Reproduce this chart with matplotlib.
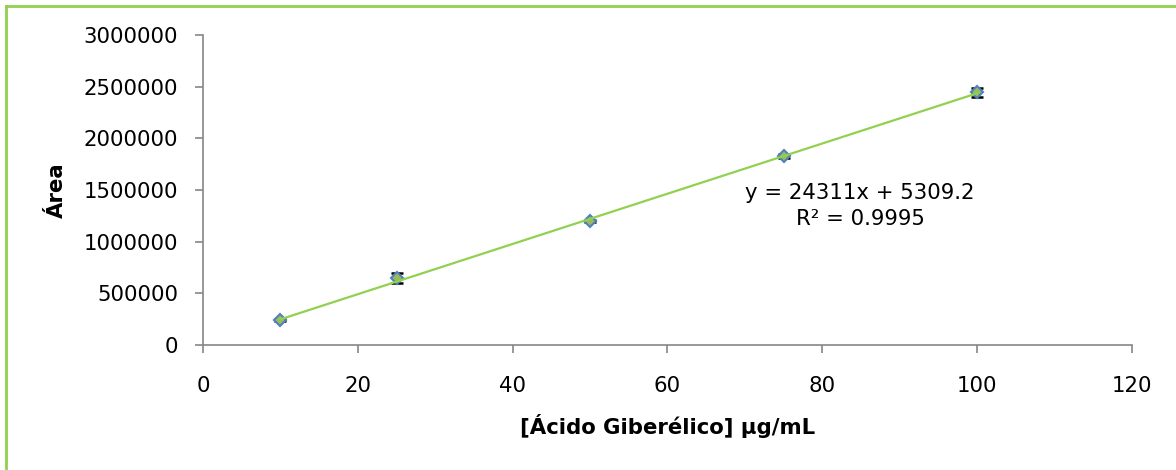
import matplotlib
matplotlib.use('Agg')
import matplotlib.pyplot as plt
from matplotlib.lines import Line2D
import numpy as np

# calibration points for gibberellic acid
conc = [10, 25, 50, 75, 100]
area = [242000, 645000, 1198000, 1832000, 2445000]
area_err = [10000, 48000, 12000, 18000, 45000]

# linear trend reported on the chart
slope = 24311
intercept = 5309.2
r2 = 0.9995

x_ticks = [0, 20, 40, 60, 80, 100, 120]
y_ticks = [0, 500000, 1000000, 1500000, 2000000, 2500000, 3000000]

green = '#92D050'
axis_grey = '#868686'
fs = 15.3

def main():
    plt.rcParams['font.family'] = ['DejaVu Sans']
    fig = plt.figure(figsize=(11.76, 4.70), dpi=100)
    ax = fig.add_axes([0.1726, 0.266, 0.79, 0.6595])

    # trendline from the fitted equation
    xs = np.array([conc[0], conc[-1]])
    ax.plot(xs, slope * xs + intercept, color=green, lw=1.6, zorder=4)

    ax.errorbar(conc, area, yerr=area_err, fmt='none', ecolor='black',
                elinewidth=1.2, capsize=4.5, capthick=1.8, zorder=2)
    ax.plot(conc, area, linestyle='none', marker='D', markersize=6.5,
            markerfacecolor='#9BBB59', markeredgecolor='#4F81BD',
            markeredgewidth=1.5, zorder=3)

    ax.text(860 / 1176, 1 - 206 / 470, f'y = {slope}x + {intercept}\nR² = {r2}',
            transform=fig.transFigure, ha='center', va='center',
            fontsize=fs, linespacing=1.35, multialignment='center')

    ax.set_xlim(0, 120)
    ax.set_ylim(0, 3000000)
    ax.set_xticks(x_ticks)
    ax.set_yticks(y_ticks)
    ax.set_xticklabels([str(v) for v in x_ticks])
    ax.set_yticklabels([str(v) for v in y_ticks])

    for side in ['top', 'right']:
        ax.spines[side].set_visible(False)
    for side in ['left', 'bottom']:
        ax.spines[side].set_color(axis_grey)
        ax.spines[side].set_linewidth(1.2)
    ax.tick_params(direction='out', length=6, width=1.2, color=axis_grey,
                   labelsize=fs, pad=12)
    ax.tick_params(axis='x', pad=16)

    ax.set_xlabel('[Ácido Giberélico] µg/mL', fontsize=fs, fontweight='bold')
    ax.xaxis.set_label_coords(668 / 1176, 1 - 426 / 470, transform=fig.transFigure)
    ax.xaxis.label.set_va('center')
    ax.set_ylabel('Área', fontsize=fs, fontweight='bold')
    ax.yaxis.set_label_coords(57 / 1176, 1 - 190 / 470, transform=fig.transFigure)
    ax.yaxis.label.set_va('center')

    # chart area border
    fig.add_artist(Line2D([5.5 / 1176, 5.5 / 1176], [0, 1 - 5.5 / 470],
                          transform=fig.transFigure, color=green, lw=2))
    fig.add_artist(Line2D([5.5 / 1176, 1], [1 - 5.5 / 470, 1 - 5.5 / 470],
                          transform=fig.transFigure, color=green, lw=2))

    fig.savefig('out.png', dpi=100)

if __name__ == "__main__":
    main()
